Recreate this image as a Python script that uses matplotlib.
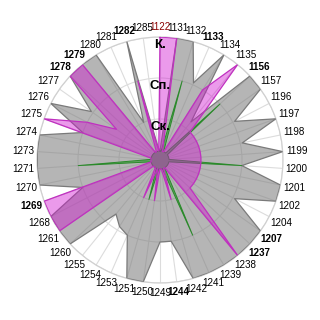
import matplotlib
matplotlib.use("Agg")
import numpy as np
import matplotlib.pyplot as plt

# categories, clockwise from the top
categories = [
    "1122", "1131", "1132", "1133", "1134", "1135", "1156", "1157",
    "1196", "1197", "1198", "1199", "1200", "1201", "1202", "1204",
    "1207", "1237", "1238", "1239", "1241", "1242", "1244", "1249",
    "1250", "1251", "1253", "1254", "1255", "1260", "1261", "1268",
    "1269", "1270", "1271", "1273", "1274", "1275", "1276", "1277",
    "1278", "1279", "1280", "1281", "1282", "1285",
]
grey_vals = [
    0.22, 3, 3, 2.05, 3, 1.2, 3, 3,
    2.05, 3, 2.05, 3, 2.0, 3, 3, 2.05,
    3, 3, 3, 3, 3, 3, 2.0, 2.0,
    3, 3, 2.0, 1.9, 1.7, 3, 3, 3,
    2.0, 3, 3, 3, 3, 2.0, 3, 2.05,
    3, 3, 3, 1.0, 3, 0.3,
]
pink_vals = [
    3, 3, 0.22, 0.22, 2.0, 3, 1.0, 1.0,
    1.0, 1.0, 1.0, 1.0, 1.0, 1.0, 1.0, 1.0,
    1.0, 1.0, 3, 0.22, 0.22, 1.0, 0.22, 0.22,
    1.0, 0.22, 1.0, 0.22, 0.22, 0.22, 3, 3,
    3, 0.22, 0.22, 0.22, 0.22, 3, 2.0, 1.3,
    3, 3, 0.22, 0.22, 2.0, 0.22,
]
green_vals = [
    0.22, 0.22, 2.0, 0.22, 0.22, 0.22, 2.0, 0.22,
    0.22, 0.22, 0.22, 0.22, 2.0, 0.22, 0.22, 0.22,
    0.22, 0.22, 0.22, 0.22, 2.0, 0.22, 0.22, 0.22,
    0.22, 1.0, 0.22, 0.22, 0.22, 0.22, 0.22, 0.22,
    0.22, 0.22, 2.0, 0.22, 0.22, 0.22, 0.22, 0.22,
    0.22, 0.22, 0.22, 0.22, 0.22, 0.22,
]
bold_labels = ["1133", "1156", "1207", "1237", "1244", "1269", "1278", "1279", "1282"]
red_labels = ["1122"]
scale_levels = [1, 2, 3]
scale_names = ["Ск.", "Сп.", "К."]

plt.rcParams["font.family"] = ["Liberation Sans Narrow", "Liberation Sans", "DejaVu Sans"]

n = len(categories)
theta = np.arange(n) * 2 * np.pi / n
t_closed = np.append(theta, theta[0])


def closed(vals):
    return np.append(vals, vals[0])


fig = plt.figure(figsize=(3.2, 3.2), dpi=100)
ax = fig.add_axes([37 / 320, 37 / 320, 246 / 320, 246 / 320], projection="polar")
ax.set_theta_zero_location("N")
ax.set_theta_direction(-1)
ax.set_axisbelow(True)

ax.fill(t_closed, closed(grey_vals), color="#808080", alpha=0.58, zorder=2, lw=0)
ax.plot(t_closed, closed(grey_vals), color="#7a7a7a", lw=0.9, zorder=3)
ax.fill(t_closed, closed(green_vals), color="#30a030", alpha=0.6, zorder=4, lw=0)
ax.plot(t_closed, closed(green_vals), color="#2a8a2a", lw=0.7, zorder=5)
ax.fill(t_closed, closed(pink_vals), color="#d010d0", alpha=0.42, zorder=6, lw=0)
ax.plot(t_closed, closed(pink_vals), color="#c030c0", lw=0.9, zorder=7)

ax.set_ylim(0, 3)
ax.set_xticks(theta)
ax.set_xticklabels([])
ax.set_yticks(scale_levels)
ax.set_yticklabels([])
ax.grid(color="#dcdcdc", lw=0.8)
ax.spines["polar"].set_color("#d0d0d0")
ax.spines["polar"].set_linewidth(0.9)

for ang, lab in zip(theta, categories):
    r = (133 + 4 * abs(np.sin(ang))) / 41
    ax.text(ang, r, lab, ha="center", va="center", fontsize=7.1,
            color="#8b0000" if lab in red_labels else "black",
            fontweight="bold" if lab in bold_labels else "normal")

for lev, name in zip(scale_levels, scale_names):
    ax.text(0, lev - 0.2, name, ha="center", va="center", fontsize=9.5,
            fontweight="bold", zorder=10,
            family=["Liberation Sans", "DejaVu Sans"])

fig.savefig("out.png", dpi=100)
